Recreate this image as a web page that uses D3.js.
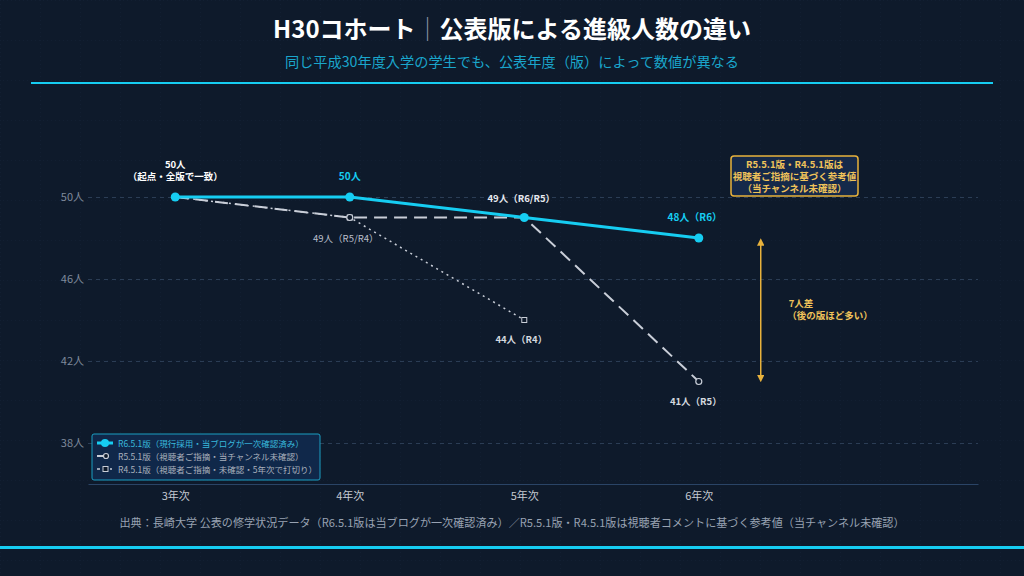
<!DOCTYPE html>
<html>
<head>
<meta charset="utf-8">
<script src="https://cdn.jsdelivr.net/npm/d3@7"></script>
<style>
  html, body { margin: 0; padding: 0; background: #0e1a2b; }
  svg { display: block; font-family: "Noto Sans CJK JP", "Noto Sans", sans-serif; }
</style>
</head>
<body>
<svg id="chart"></svg>
<script>
// data
var grades = ["3年次", "4年次", "5年次", "6年次"];
var r6 = [50, 50, 49, 48];
var r5 = [50, 49, 49, 41];
var r4 = [50, 49, 44];
var yTicks = [38, 42, 46, 50];
var legendLabels = [
  "R6.5.1版（現行採用・当ブログが一次確認済み）",
  "R5.5.1版（視聴者ご指摘・当チャンネル未確認）",
  "R4.5.1版（視聴者ご指摘・未確認・5年次で打切り）"
];

var CYAN = "#16cdf2";
var GRAY_LINE = "#c9ced8";
var GOLD = "#e8b23c";
var BG = "#0e1a2b";

var width = 1024, height = 576;
var svg = d3.select("#chart").attr("width", width).attr("height", height);

// faint background grid
var defs = svg.append("defs");
var pat = defs.append("pattern")
  .attr("id", "bggrid")
  .attr("width", 40).attr("height", 40)
  .attr("patternUnits", "userSpaceOnUse");
pat.append("path")
  .attr("d", "M40 0 L0 0 0 40")
  .attr("fill", "none")
  .attr("stroke", "#16243a")
  .attr("stroke-width", 1)
  .attr("stroke-dasharray", "1,3");
svg.append("rect").attr("width", width).attr("height", height).attr("fill", BG);
svg.append("rect").attr("width", width).attr("height", height).attr("fill", "url(#bggrid)");

// title
var title = svg.append("text")
  .attr("x", width / 2).attr("y", 38)
  .attr("text-anchor", "middle")
  .style("font-size", "24px")
  .style("font-weight", "bold")
  .attr("fill", "#ffffff");
title.append("tspan").text("H30コホート");
title.append("tspan").text("｜").attr("fill", "#8a93a3").style("font-weight", "normal");
title.append("tspan").text("公表版による進級人数の違い");

svg.append("text")
  .attr("x", width / 2).attr("y", 67)
  .attr("text-anchor", "middle")
  .style("font-size", "14.2px")
  .attr("fill", "#1aa6cc")
  .text("同じ平成30年度入学の学生でも、公表年度（版）によって数値が異なる");

svg.append("line")
  .attr("x1", 31).attr("x2", 993).attr("y1", 83).attr("y2", 83)
  .attr("stroke", CYAN).attr("stroke-width", 2);

// scales
var xscale = d3.scaleLinear().domain([-0.5, 4.6]).range([88, 978]);
var yscale = d3.scaleLinear().domain([36, 52]).range([484, 156]);

// y grid + labels
var yaxis = d3.axisLeft(yscale)
  .tickValues(yTicks)
  .tickSize(-(978 - 88))
  .tickPadding(4)
  .tickFormat(function (d) { return d + "人"; });
var gy = svg.append("g")
  .attr("transform", "translate(88,0)")
  .call(yaxis);
gy.select(".domain").remove();
gy.selectAll(".tick line")
  .attr("stroke", "#2b3d55")
  .attr("stroke-dasharray", "4,4");
gy.selectAll(".tick text")
  .attr("fill", "#7f8a9c")
  .style("font-size", "11px")
  .style("font-family", "'Noto Sans CJK JP', sans-serif");

// x axis
var xaxis = d3.axisBottom(xscale)
  .tickValues([0, 1, 2, 3])
  .tickSize(0)
  .tickPadding(8)
  .tickFormat(function (d) { return grades[d]; });
var gx = svg.append("g")
  .attr("transform", "translate(0,484)")
  .call(xaxis);
gx.select(".domain").attr("stroke", "#2a4466").attr("stroke-width", 1);
gx.selectAll(".tick text")
  .attr("fill", "#c4c9d2")
  .style("font-size", "11px")
  .style("font-family", "'Noto Sans CJK JP', sans-serif");

// lines
var line = d3.line()
  .x(function (d, i) { return xscale(i); })
  .y(function (d) { return yscale(d); });

svg.append("path")
  .attr("d", line(r4))
  .attr("fill", "none")
  .attr("stroke", GRAY_LINE)
  .attr("stroke-width", 1.5)
  .attr("stroke-dasharray", "2,4");

svg.append("path")
  .attr("d", line(r5))
  .attr("fill", "none")
  .attr("stroke", GRAY_LINE)
  .attr("stroke-width", 2)
  .attr("stroke-dasharray", "13,7");

svg.append("path")
  .attr("d", line(r6))
  .attr("fill", "none")
  .attr("stroke", CYAN)
  .attr("stroke-width", 3);

// markers
svg.selectAll(".sq")
  .data(r4)
  .enter()
  .append("rect")
  .attr("class", "sq")
  .attr("x", function (d, i) { return xscale(i) - 2.5; })
  .attr("y", function (d) { return yscale(d) - 2.5; })
  .attr("width", 5).attr("height", 5)
  .attr("fill", BG)
  .attr("stroke", GRAY_LINE)
  .attr("stroke-width", 1);

svg.selectAll(".ring")
  .data(r5)
  .enter()
  .append("circle")
  .attr("class", "ring")
  .attr("cx", function (d, i) { return xscale(i); })
  .attr("cy", function (d) { return yscale(d); })
  .attr("r", 3)
  .attr("fill", BG)
  .attr("stroke", GRAY_LINE)
  .attr("stroke-width", 1.2);

svg.selectAll(".dot")
  .data(r6)
  .enter()
  .append("circle")
  .attr("class", "dot")
  .attr("cx", function (d, i) { return xscale(i); })
  .attr("cy", function (d) { return yscale(d); })
  .attr("r", 4.5)
  .attr("fill", CYAN);

// point labels
function label(x, y, txt, color, size, weight) {
  svg.append("text")
    .attr("x", x).attr("y", y)
    .attr("text-anchor", "middle")
    .style("font-size", size + "px")
    .style("font-weight", weight || "bold")
    .attr("fill", color)
    .text(txt);
}
label(xscale(0), yscale(r6[0]) - 29, r6[0] + "人", "#ffffff", 9.5);
label(xscale(0), yscale(r6[0]) - 17, "（起点・全版で一致）", "#ffffff", 9.5);
label(xscale(1), yscale(r6[1]) - 17, r6[1] + "人", CYAN, 10);
label(xscale(2) - 3, yscale(r6[2]) - 16, r6[2] + "人（R6/R5）", "#e6e9ee", 9.5);
label(xscale(1) - 4, yscale(r5[1]) + 24, r5[1] + "人（R5/R4）", "#b9bfca", 9.5, "normal");
label(xscale(3) - 4, yscale(r6[3]) - 17, r6[3] + "人（R6）", CYAN, 10);
label(xscale(2) - 3, yscale(r4[2]) + 23, r4[2] + "人（R4）", "#d4d8df", 9.5);
label(xscale(3) - 3, yscale(r5[3]) + 23, r5[3] + "人（R5）", "#d4d8df", 9.5);

// note box
var note = svg.append("g");
note.append("rect")
  .attr("x", 731).attr("y", 156).attr("width", 127).attr("height", 40)
  .attr("rx", 3)
  .attr("fill", "#15294a")
  .attr("stroke", GOLD)
  .attr("stroke-width", 1.5);
["R5.5.1版・R4.5.1版は", "視聴者ご指摘に基づく参考値", "（当チャンネル未確認）"].forEach(function (t, i) {
  note.append("text")
    .attr("x", 794.5).attr("y", 168 + i * 12)
    .attr("text-anchor", "middle")
    .style("font-size", "9.5px")
    .style("font-weight", "bold")
    .attr("fill", "#f0c35a")
    .text(t);
});

// gap arrow
defs.append("marker")
  .attr("id", "arrowhead")
  .attr("viewBox", "0 0 10 10")
  .attr("refX", 5).attr("refY", 5)
  .attr("markerWidth", 5).attr("markerHeight", 5)
  .attr("orient", "auto-start-reverse")
  .append("path")
  .attr("d", "M0 0 L10 5 L0 10 Z")
  .attr("fill", GOLD);
var ax = xscale(3.355);
svg.append("line")
  .attr("x1", ax).attr("x2", ax)
  .attr("y1", yscale(r6[3]) + 4).attr("y2", yscale(r5[3]) - 3)
  .attr("stroke", GOLD)
  .attr("stroke-width", 1.5)
  .attr("marker-start", "url(#arrowhead)")
  .attr("marker-end", "url(#arrowhead)");
svg.append("text")
  .attr("x", 801).attr("y", 307)
  .attr("text-anchor", "middle")
  .style("font-size", "9.5px").style("font-weight", "bold")
  .attr("fill", "#f0c35a")
  .text((r6[3] - r5[3]) + "人差");
svg.append("text")
  .attr("x", 830).attr("y", 319)
  .attr("text-anchor", "middle")
  .style("font-size", "9.5px").style("font-weight", "bold")
  .attr("fill", "#f0c35a")
  .text("（後の版ほど多い）");

// legend
var lg = svg.append("g");
lg.append("rect")
  .attr("x", 92).attr("y", 434).attr("width", 228).attr("height", 46)
  .attr("rx", 2)
  .attr("fill", "#10284a")
  .attr("stroke", "#1a9ec2")
  .attr("stroke-width", 1);
var lgColors = ["#38b9dc", "#aab1bd", "#aab1bd"];
legendLabels.forEach(function (t, i) {
  var y = 443 + i * 13;
  if (i === 0) {
    lg.append("line").attr("x1", 97).attr("x2", 113).attr("y1", y).attr("y2", y)
      .attr("stroke", CYAN).attr("stroke-width", 3);
    lg.append("circle").attr("cx", 105).attr("cy", y).attr("r", 4).attr("fill", CYAN);
  } else if (i === 1) {
    lg.append("line").attr("x1", 97).attr("x2", 104).attr("y1", y).attr("y2", y)
      .attr("stroke", GRAY_LINE).attr("stroke-width", 2);
    lg.append("circle").attr("cx", 106).attr("cy", y).attr("r", 2.5)
      .attr("fill", BG).attr("stroke", GRAY_LINE).attr("stroke-width", 1.2);
  } else {
    lg.append("line").attr("x1", 97).attr("x2", 100).attr("y1", y).attr("y2", y)
      .attr("stroke", GRAY_LINE).attr("stroke-width", 1.5);
    lg.append("rect").attr("x", 103).attr("y", y - 2.5).attr("width", 5).attr("height", 5)
      .attr("fill", BG).attr("stroke", GRAY_LINE).attr("stroke-width", 1);
    lg.append("line").attr("x1", 110).attr("x2", 112).attr("y1", y).attr("y2", y)
      .attr("stroke", GRAY_LINE).attr("stroke-width", 1.5);
  }
  lg.append("text")
    .attr("x", 118).attr("y", y + 3.5)
    .style("font-size", "8.5px")
    .attr("fill", lgColors[i])
    .text(t);
});

// source
svg.append("text")
  .attr("x", width / 2).attr("y", 527)
  .attr("text-anchor", "middle")
  .style("font-size", "11.1px")
  .attr("fill", "#98a2b2")
  .text("出典：長崎大学 公表の修学状況データ（R6.5.1版は当ブログが一次確認済み）／R5.5.1版・R4.5.1版は視聴者コメントに基づく参考値（当チャンネル未確認）");

svg.append("rect")
  .attr("x", 0).attr("y", 546).attr("width", width).attr("height", 3)
  .attr("fill", CYAN);
</script>
</body>
</html>
